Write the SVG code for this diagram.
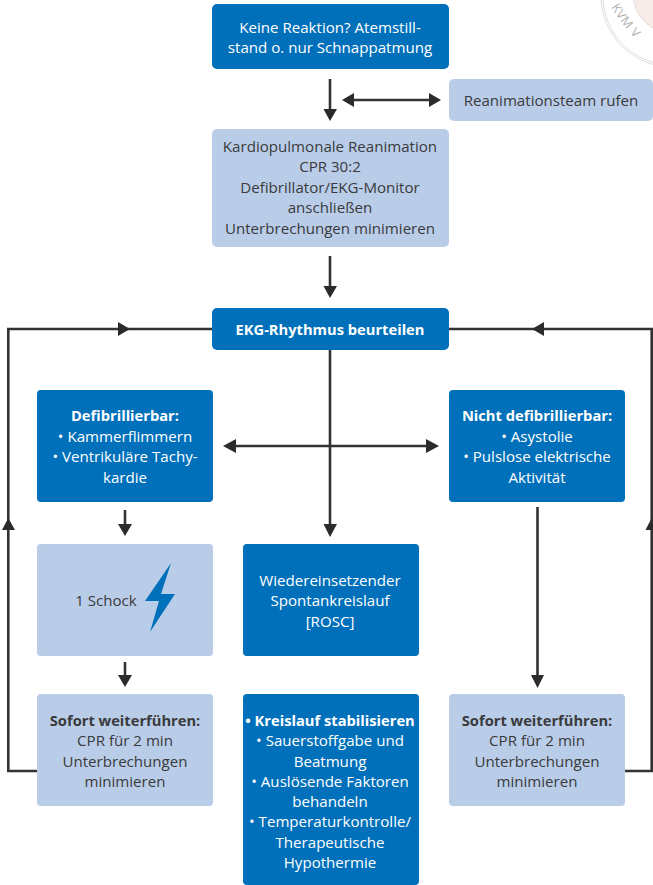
<svg xmlns="http://www.w3.org/2000/svg" width="653" height="885" viewBox="0 0 653 885">
<defs><path id="sp" d="M611 7Q626 32 650 53"/></defs>
<style>
text{font-family:"Open Sans","Liberation Sans",sans-serif;font-size:15.1px;text-anchor:middle}
.d rect{fill:#0070ba}.l rect{fill:#b9cde8}
.d text{fill:#fff;transform:translateY(.5px)}.l text{fill:#3a3a3c;transform:translateY(.5px)}
.d text.b,.l text.b{font-weight:700;font-size:14.7px}
.c{fill:none;stroke:#333335;stroke-width:2.6}
.h{fill:#2b2a2c}
text.s{font-size:12.5px;fill:#b4b0b0;text-anchor:start;letter-spacing:.6px}
</style>
<rect width="653" height="885" fill="#fff"/>
<g id="stamp" fill="none" stroke="#d2cdcd" stroke-width="0.7">
<circle cx="672" cy="-4" r="71"/><circle cx="672" cy="-4" r="69"/>
<circle cx="672" cy="-6" r="39" fill="#f8ece8" stroke="#e2d6d2"/>
<text class="s" stroke="none"><textPath href="#sp">KVM V</textPath></text>
</g>
<g id="connectors">
<path class="c" d="M330 79V110M354 100H430M330 256V286M212 329H8.300V771H37M449 329H651.700V771H625M330 350V525M235 446H427M125 510V526M125 662V677M537.500 507V677"/>
<path class="h" d="M323.500 109H337L330 121ZM342 100L354 93V107ZM441 100L429 93V107ZM323.500 286H337L330 298ZM130 329L118 322V336ZM532 329L544 322V336ZM2 530L8.300 518L15 530ZM645.500 530L651.700 518L653 520.500V530ZM223 446L236 439V453ZM439 446L426 439V453ZM323.500 524H337L330 537ZM118 524H132L125 536ZM118 675H132L125 687ZM531 675H544L537.500 688Z"/>
</g>
<g id="n1" class="d"><rect x="212" y="4" width="237" height="65" rx="5"/><text x="330" y="32">Keine Reaktion? Atemstill-</text><text x="330" y="52">stand o. nur Schnappatmung</text></g>
<g id="n2" class="l"><rect x="449" y="79" width="204" height="42" rx="5"/><text x="551" y="105">Reanimationsteam rufen</text></g>
<g id="n3" class="l"><rect x="212" y="129" width="237" height="118" rx="5"/><text x="330" y="151">Kardiopulmonale Reanimation</text><text x="330" y="171">CPR 30:2</text><text x="330" y="192">Defibrillator/EKG-Monitor</text><text x="330" y="212">anschließen</text><text x="330" y="233">Unterbrechungen minimieren</text></g>
<g id="n4" class="d"><rect x="212" y="308" width="237" height="42" rx="5"/><text class="b" x="330" y="334">EKG-Rhythmus beurteilen</text></g>
<g id="n5" class="d"><rect x="37" y="390" width="176" height="112" rx="4"/><text class="b" x="125" y="420">Defibrillierbar:</text><text x="125" y="441">• Kammerflimmern</text><text x="125" y="461">• Ventrikuläre Tachy-</text><text x="125" y="482">kardie</text></g>
<g id="n6" class="d"><rect x="449" y="390" width="176" height="112" rx="4"/><text class="b" x="537" y="420">Nicht defibrillierbar:</text><text x="537" y="441">• Asystolie</text><text x="537" y="461">• Pulslose elektrische</text><text x="537" y="482">Aktivität</text></g>
<g id="n7" class="l"><rect x="37" y="544" width="176" height="112" rx="4"/><text x="106" y="605">1 Schock</text><path d="M171 563L145 601L159 601L150 632L175 594L161 594Z" fill="#0070ba"/></g>
<g id="n8" class="d"><rect x="243" y="544" width="176" height="112" rx="4"/><text x="330" y="585">Wiedereinsetzender</text><text x="330" y="605">Spontankreislauf</text><text x="330" y="626">[ROSC]</text></g>
<g id="n9" class="l"><rect x="37" y="694" width="176" height="112" rx="4"/><text class="b" x="125" y="725">Sofort weiterführen:</text><text x="125" y="745">CPR für 2 min</text><text x="125" y="766">Unterbrechungen</text><text x="125" y="786">minimieren</text></g>
<g id="n10" class="d"><rect x="243" y="694" width="176" height="191" rx="4"/><text class="b" x="330" y="725">• Kreislauf stabilisieren</text><text x="330" y="745">• Sauerstoffgabe und</text><text x="330" y="766">Beatmung</text><text x="330" y="786">• Auslösende Faktoren</text><text x="330" y="806">behandeln</text><text x="330" y="826">• Temperaturkontrolle/</text><text x="330" y="847">Therapeutische</text><text x="330" y="867">Hypothermie</text></g>
<g id="n11" class="l"><rect x="449" y="694" width="176" height="112" rx="4"/><text class="b" x="537" y="725">Sofort weiterführen:</text><text x="537" y="745">CPR für 2 min</text><text x="537" y="766">Unterbrechungen</text><text x="537" y="786">minimieren</text></g>
</svg>
